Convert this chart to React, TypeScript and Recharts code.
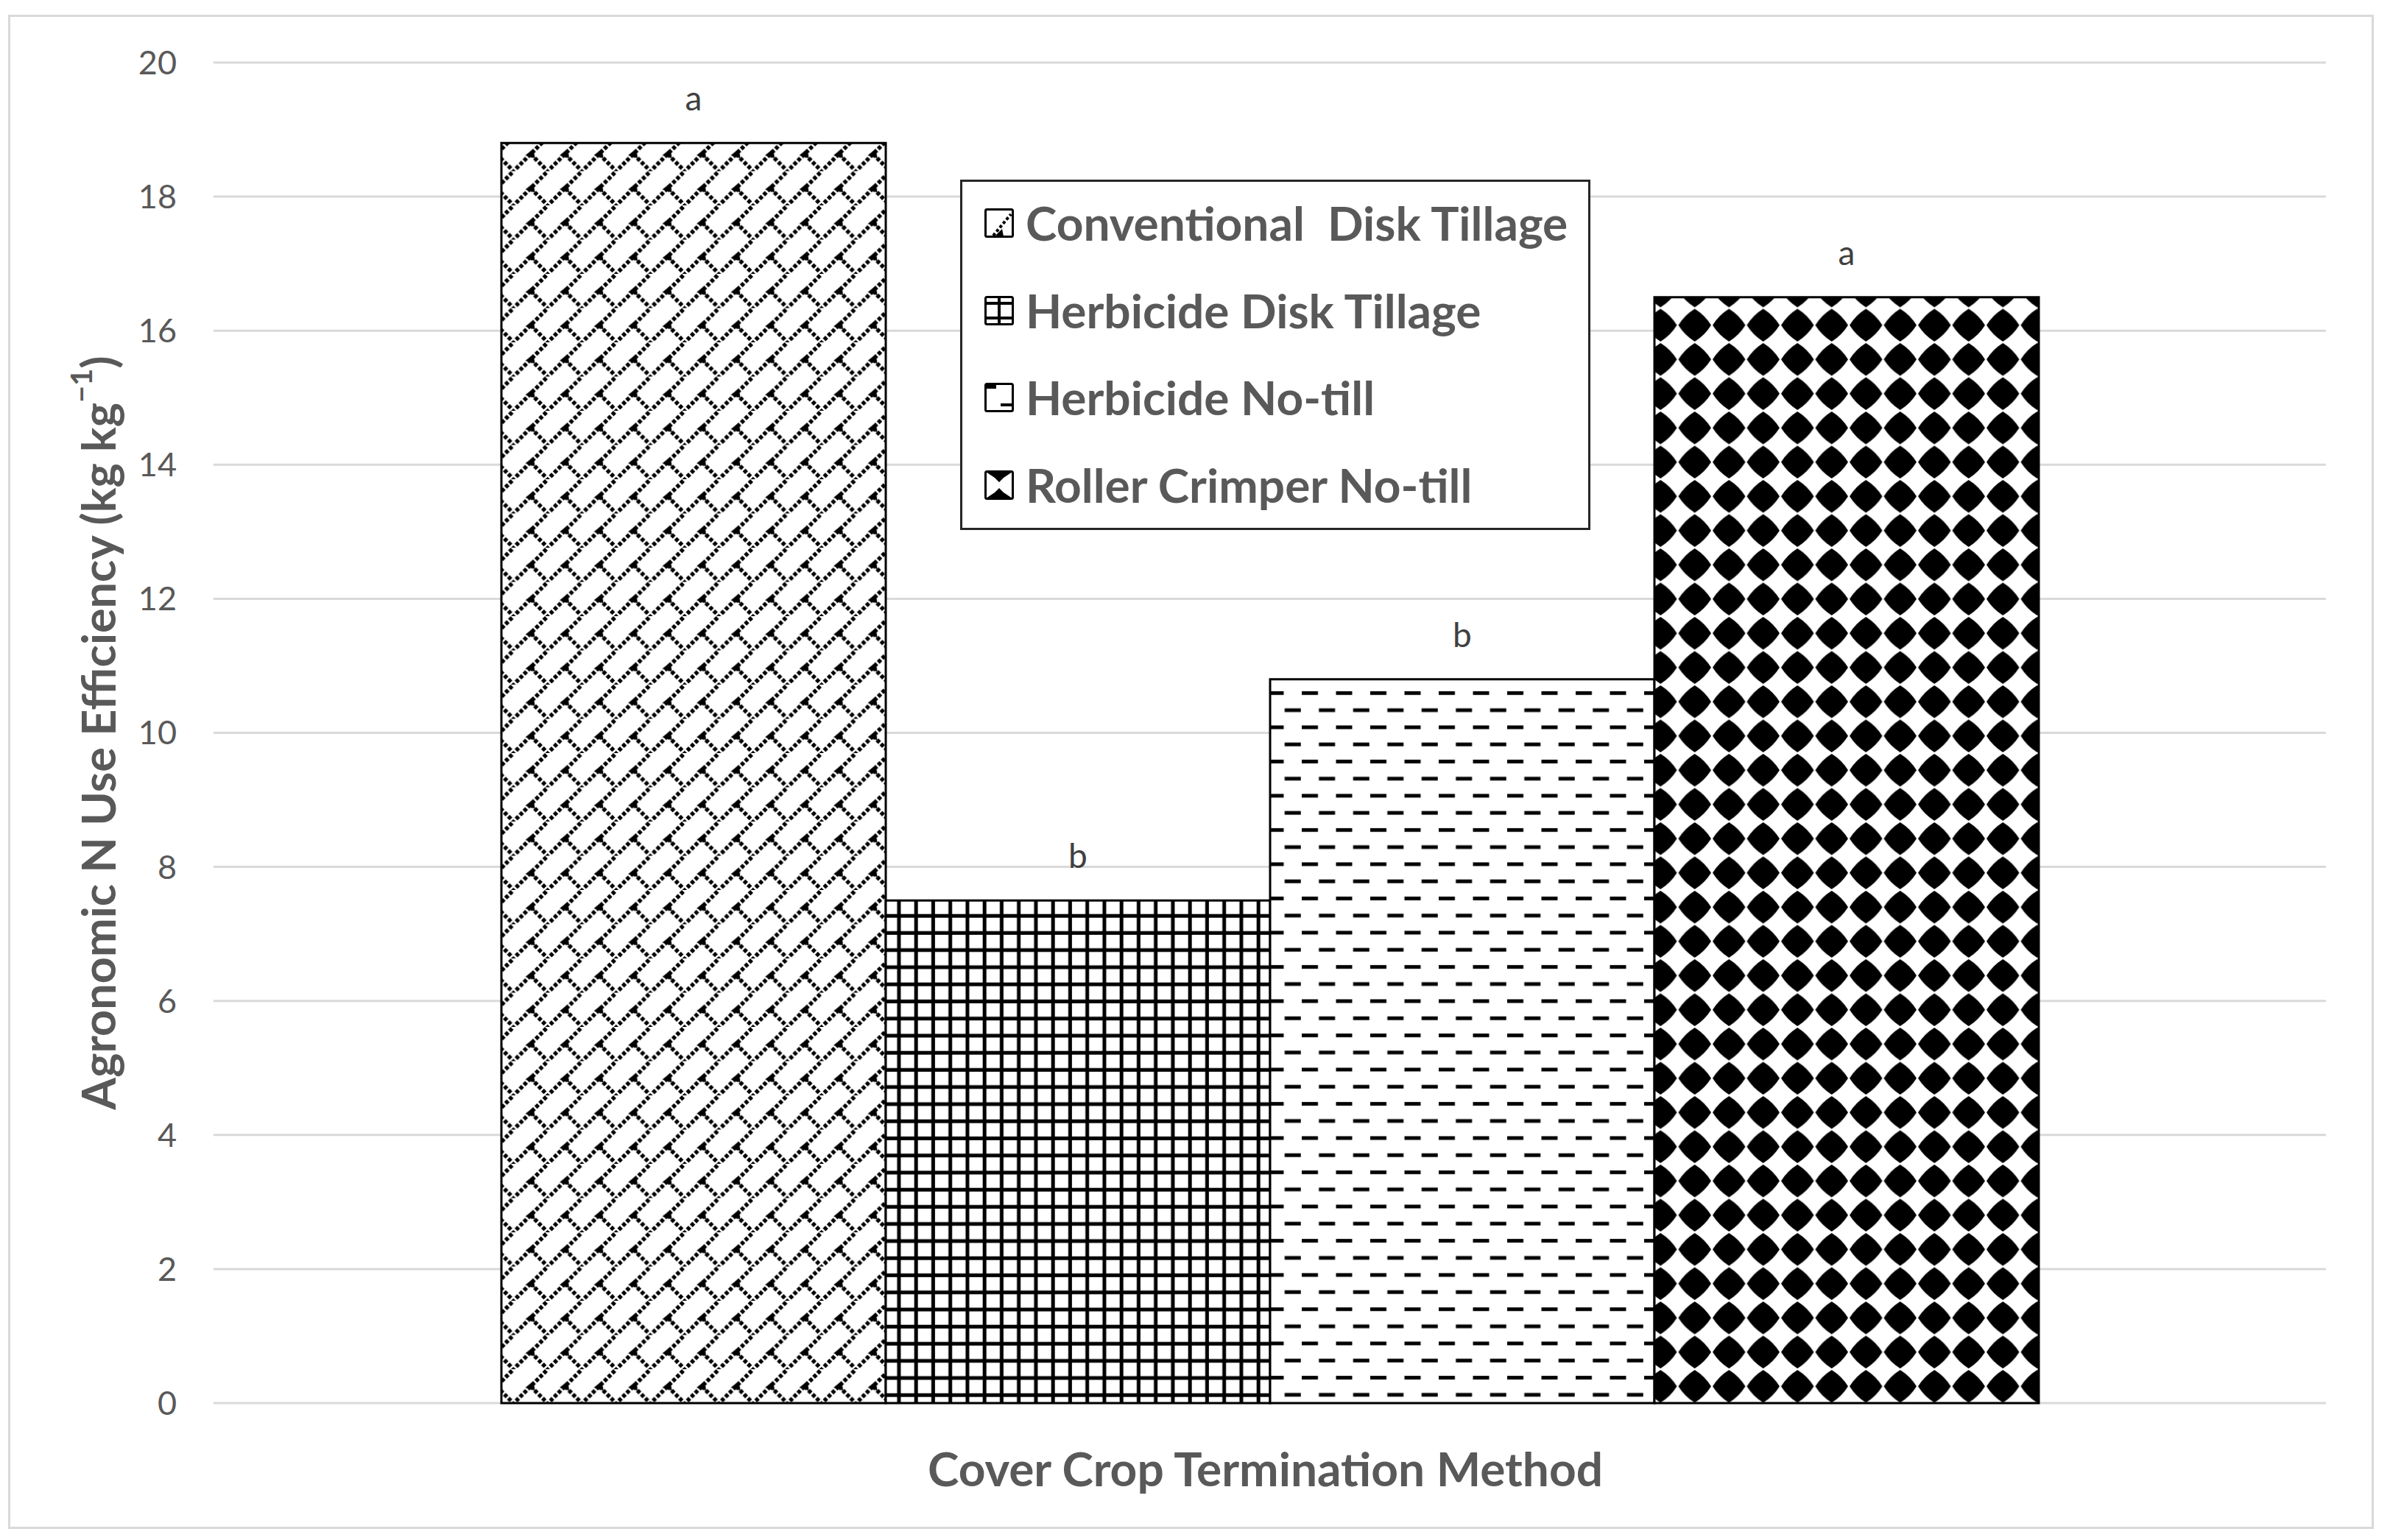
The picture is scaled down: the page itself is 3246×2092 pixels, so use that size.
import React from 'react';
import { BarChart, Bar, XAxis, YAxis, CartesianGrid, Legend } from 'recharts';

const categories = ['Cover Crop Termination Method'];
const seriesNames = ['Conventional  Disk Tillage', 'Herbicide Disk Tillage', 'Herbicide No-till', 'Roller Crimper No-till'];
const seriesKeys = ['cdt', 'hdt', 'hnt', 'rcn'];
const seriesValues = [18.8, 7.5, 10.8, 16.5];
const letters = ['a', 'b', 'b', 'a'];
const yTicks = [0, 2, 4, 6, 8, 10, 12, 14, 16, 18, 20];
const patternIds = ['patBrick', 'patGrid', 'patDash', 'patDiamond'];

const data = categories.map((c) => {
  const row: any = { name: c };
  seriesKeys.forEach((k, i) => (row[k] = seriesValues[i]));
  return row;
});

const TXT = '#595959';
const FONT = 'Lato, "Open Sans", sans-serif';

const Patterns = () => (
  <defs>
    <pattern id="patBrick" patternUnits="userSpaceOnUse" width={46.5} height={46.5}>
      <rect width={46.5} height={46.5} fill="#fff" />
      <path d="M-2,48.5 L48.5,-2" stroke="#000" strokeWidth={5.5} strokeDasharray="5 2.6" />
      <path d="M23.25,23.25 L46.5,46.5" stroke="#000" strokeWidth={5.5} strokeDasharray="5 2.6" />
      <path d="M16,25 L27,16 L29,29 Z" fill="#000" />
    </pattern>
    <pattern id="patGrid" patternUnits="userSpaceOnUse" width={23.25} height={23.25}>
      <rect width={23.25} height={23.25} fill="#fff" />
      <rect x={9.4} y={0} width={5} height={23.25} fill="#000" />
      <rect x={0} y={9.4} width={23.25} height={5} fill="#000" />
    </pattern>
    <pattern id="patDash" patternUnits="userSpaceOnUse" width={46.5} height={46.5}>
      <rect width={46.5} height={46.5} fill="#fff" />
      <rect x={1} y={9} width={22} height={5} fill="#000" />
      <rect x={24.25} y={32.25} width={22} height={5} fill="#000" />
    </pattern>
    <pattern id="patDiamond" patternUnits="userSpaceOnUse" width={46.5} height={46.5}>
      <rect width={46.5} height={46.5} fill="#fff" />
      <path
        d="M23.25,1 Q37,9.5 45.5,23.25 Q37,37 23.25,45.5 Q9.5,37 1,23.25 Q9.5,9.5 23.25,1 Z"
        fill="#000"
      />
    </pattern>
  </defs>
);

const LegendIcon = ({ idx }: { idx: number }) => {
  const s = 40;
  const parts: any[] = [];
  if (idx === 0) {
    parts.push(<path key="a" d="M12,37 L36,8" stroke="#000" strokeWidth={4} strokeDasharray="4 3" />);
    parts.push(<path key="b" d="M14,38 L24,28 L26,38 Z" fill="#000" />);
  } else if (idx === 1) {
    parts.push(<rect key="a" x={18} y={2} width={4} height={36} fill="#000" />);
    parts.push(<rect key="b" x={2} y={8} width={36} height={4} fill="#000" />);
    parts.push(<rect key="c" x={2} y={28} width={36} height={4} fill="#000" />);
  } else if (idx === 2) {
    parts.push(<rect key="a" x={2} y={2} width={14} height={6} fill="#000" />);
    parts.push(<rect key="b" x={22} y={28} width={16} height={4} fill="#000" />);
  } else {
    parts.push(<path key="a" d="M2,2 L38,2 L26,10 L20,16 L14,10 Z" fill="#000" />);
    parts.push(<path key="b" d="M2,38 L38,38 L26,30 L20,24 L14,30 Z" fill="#000" />);
  }
  return (
    <svg width={s} height={s} style={{ display: 'block' }}>
      <rect x={0} y={0} width={s} height={s} fill="#fff" />
      {parts}
      <rect x={1.5} y={1.5} width={s - 3} height={s - 3} rx={2} fill="none" stroke="#000" strokeWidth={3} />
    </svg>
  );
};

const LegendContent = () => (
  <div
    style={{
      position: 'relative',
      width: 856,
      height: 476,
      boxSizing: 'border-box',
      border: '3px solid #262626',
      background: '#fff',
    }}
  >
    {seriesNames.map((n, i) => (
      <div
        key={n}
        style={{
          position: 'absolute',
          left: 30,
          top: 56 + i * 118.5 - 40,
          height: 80,
          display: 'flex',
          alignItems: 'center',
        }}
      >
        <LegendIcon idx={i} />
        <span
          style={{
            marginLeft: 16,
            fontFamily: FONT,
            fontWeight: 700,
            fontSize: 64,
            color: TXT,
            whiteSpace: 'pre',
            lineHeight: '80px',
          }}
        >
          {n}
        </span>
      </div>
    ))}
  </div>
);

const makeLetter = (letter: string) => (props: any) => {
  const { x, y, width } = props;
  return (
    <text
      x={x + width / 2}
      y={y - 44}
      textAnchor="middle"
      fontFamily={FONT}
      fontSize={46}
      fill="#404040"
    >
      {letter}
    </text>
  );
};

const YTitle = (props: any) => {
  const { viewBox } = props;
  const cy = viewBox.y + viewBox.height / 2;
  const cx = 132;
  return (
    <text
      x={cx}
      y={cy}
      transform={`rotate(-90 ${cx} ${cy})`}
      textAnchor="middle"
      dominantBaseline="central"
      fontFamily={FONT}
      fontWeight={700}
      fontSize={63}
      fill={TXT}
    >
      Agronomic N Use Efficiency (kg kg
      <tspan fontSize={40} dy={-22}>−1</tspan>
      <tspan dy={22}>)</tspan>
    </text>
  );
};

const XTitle = (props: any) => {
  const { viewBox } = props;
  return (
    <text
      x={viewBox.x + viewBox.width / 2 - 6}
      y={1994}
      textAnchor="middle"
      dominantBaseline="central"
      fontFamily={FONT}
      fontWeight={700}
      fontSize={64}
      fill={TXT}
    >
      {categories[0]}
    </text>
  );
};

export default function App() {
  return (
    <div style={{ position: 'absolute', left: 0, top: 0, width: 3246, height: 2092, background: '#fff' }}>
      <div
        style={{
          position: 'absolute',
          left: 11,
          top: 20,
          width: 3213,
          height: 2057,
          boxSizing: 'border-box',
          border: '3px solid #d9d9d9',
        }}
      />
      <div style={{ position: 'absolute', left: 0, top: 0 }}>
        <BarChart
          width={3246}
          height={2092}
          data={data}
          margin={{ top: 85, right: 87, bottom: 0, left: 0 }}
          barGap={0}
          barCategoryGap={391}
        >
          <Patterns />
          <CartesianGrid vertical={false} stroke="#d9d9d9" strokeWidth={3} />
          <XAxis
            dataKey="name"
            height={186}
            axisLine={false}
            tickLine={false}
            tick={false}
            label={<XTitle />}
          />
          <YAxis
            width={290}
            domain={[0, 20]}
            ticks={yTicks}
            axisLine={false}
            tickLine={false}
            tickSize={0}
            tickMargin={50}
            tick={{ fill: TXT, fontSize: 45, fontFamily: FONT }}
            interval={0}
            label={<YTitle />}
          />
          <Legend
            layout="vertical"
            align="center"
            verticalAlign="middle"
            wrapperStyle={{ left: 1304, top: 244, width: 856, height: 476 }}
            content={() => <LegendContent />}
          />
          {seriesKeys.map((k, i) => (
            <Bar
              key={k}
              dataKey={k}
              name={seriesNames[i]}
              fill={`url(#${patternIds[i]})`}
              stroke="#000"
              strokeWidth={3}
              isAnimationActive={false}
              label={makeLetter(letters[i])}
            />
          ))}
        </BarChart>
      </div>
    </div>
  );
}
